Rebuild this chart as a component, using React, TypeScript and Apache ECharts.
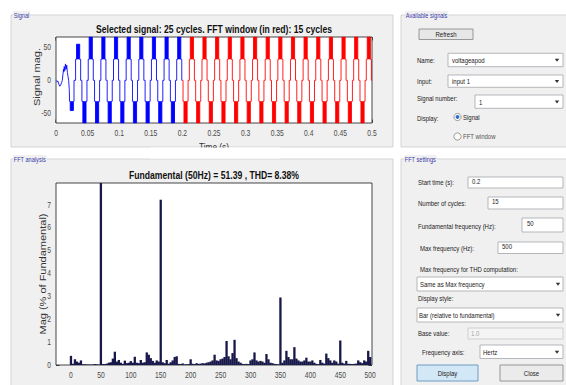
import React, { useEffect, useRef } from 'react';
import * as echarts from 'echarts';

// The screenshot is squeezed horizontally; the chart is drawn wider and scaled.
const S = 0.75;
const FONT = '"Liberation Sans", Arial, Helvetica, sans-serif';

// ---------------- Signal plot ----------------
const timeTicks = [0, 0.05, 0.1, 0.15, 0.2, 0.25, 0.3, 0.35, 0.4, 0.45, 0.5];
const signalTicks = [-50, 0, 50];
const signalMin = -65;
const signalMax = 66;
const fftWindowStart = 0.2;

// start-up transient (time s, value)
const transientSignal: [number, number][] = [
  [0, 0], [0.0015, -2], [0.003, -1], [0.0045, -6], [0.006, -9], [0.0075, -7], [0.009, -3], [0.01, 0],
  [0.011, 9], [0.012, 17], [0.0125, 13], [0.013, 21], [0.014, 15], [0.015, 25], [0.016, 17], [0.017, 23],
  [0.018, 12], [0.019, 6], [0.02, 0], [0.021, -14], [0.0215, -32], [0.0225, -32], [0.0225, -46],
  [0.0275, -46], [0.0275, -32], [0.0285, -32], [0.0285, 0], [0.031, 0], [0.031, 32], [0.0325, 32],
  [0.0325, 55], [0.0375, 55], [0.0375, 32], [0.039, 32], [0.039, 0],
];
// dense switching blocks of the transient: [t0, t1, low, high]
const transientBlocks: [number, number, number, number][] = [
  [0.0225, 0.0275, -46, -32],
  [0.0325, 0.0375, 32, 55],
];
// one steady-state cycle of the staircase (offset in s, value)
const cycleShape: [number, number][] = [
  [0, 0], [0.001, 0], [0.001, -32], [0.0025, -32], [0.0025, -65], [0.0075, -65], [0.0075, -32],
  [0.009, -32], [0.009, 0], [0.011, 0], [0.011, 32], [0.0125, 32], [0.0125, 66], [0.0175, 66],
  [0.0175, 32], [0.019, 32], [0.019, 0],
];
const cycleBlocks: [number, number, number, number][] = [
  [0.0025, 0.0075, -65, -32],
  [0.0125, 0.0175, 32, 66],
];
const cycleStarts = [
  0.04, 0.06, 0.08, 0.1, 0.12, 0.14, 0.16, 0.18, 0.2, 0.22, 0.24, 0.26, 0.28, 0.3, 0.32, 0.34,
  0.36, 0.38, 0.4, 0.42, 0.44, 0.46, 0.48,
];
const signalEnd: [number, number] = [0.5, 0];

// ---------------- FFT plot ----------------
const fftBinHz = 50 / 15;
const fftMag = [
  0.40, 0.05, 0.25, 0.15, 0.10, 0.20, 0.03, 0.03, 0.02, 0.02,
  0.02, 0.02, 0.04, 0.03, 0.02, 100, 0.04, 0.04, 0.06, 0.10,
  0.12, 0.28, 0.58, 0.15, 0.22, 0.10, 0.05, 0.19, 0.08, 0.10,
  0.17, 0.10, 0.36, 0.10, 0.08, 0.22, 0.10, 0.12, 0.55, 0.45,
  0.30, 0.18, 0.10, 0.20, 0.15, 7.22, 0.12, 0.08, 0.22, 0.06,
  0.12, 0.20, 0.35, 0.38, 0.05, 0.04, 0.07, 0.03, 0.03, 0.04,
  0.25, 0.05, 0.04, 0.08, 0.05, 0.06, 0.08, 0.07, 0.10, 0.12,
  0.15, 0.20, 0.45, 0.20, 0.18, 0.25, 0.28, 0.35, 1.05, 0.38,
  0.25, 0.52, 1.10, 0.30, 0.15, 0.10, 0.05, 0.04, 0.05, 0.04,
  0.20, 0.25, 0.55, 0.20, 0.15, 0.18, 0.15, 0.10, 0.48, 0.25,
  0.10, 0.08, 0.05, 0.04, 0.03, 2.95, 0.10, 0.20, 0.62, 0.35,
  0.25, 0.25, 0.78, 0.28, 0.20, 0.15, 0.15, 0.20, 0.32, 0.15,
  0.15, 0.20, 0.10, 0.05, 0.04, 0.22, 0.10, 0.06, 0.50, 0.30,
  0.20, 0.10, 0.20, 0.15, 0.06, 1.07, 0.10, 0.06, 0.18, 0.05,
  0.05, 0.04, 0.05, 0.06, 0.20, 0.12, 0.08, 0.20, 0.15, 0.62,
  0.35,
];
const freqTicks = [0, 50, 100, 150, 200, 250, 300, 350, 400, 450, 500];
const magTicks = [0, 1, 2, 3, 4, 5, 6, 7];
const freqMin = -25;
const freqMax = 503;
const magMax = 7.95;

// ---------------- build series data ----------------
const allPts: [number, number][] = [...transientSignal];
cycleStarts.forEach((c) => cycleShape.forEach(([dt, v]) => allPts.push([+(c + dt).toFixed(5), v])));
allPts.push(signalEnd);
const bluePts = allPts.filter((p) => p[0] <= fftWindowStart);
const redPts = allPts.filter((p) => p[0] >= fftWindowStart);

const allBlocks: [number, number, number, number][] = [...transientBlocks];
cycleStarts.forEach((c) =>
  cycleBlocks.forEach((b) => allBlocks.push([+(c + b[0]).toFixed(5), +(c + b[1]).toFixed(5), b[2], b[3]]))
);
const blueBlocks = allBlocks.filter((b) => b[1] <= fftWindowStart);
const redBlocks = allBlocks.filter((b) => b[0] >= fftWindowStart);

const fftData = fftMag.map((m, i) => [+(i * fftBinHz).toFixed(3), m]);

const px = (x: number) => x / S;

function buildGraphics() {
  const g: any[] = [];
  const rect = (x: number, y: number, w: number, h: number, fill: string, stroke?: string, z = 1) =>
    g.push({
      type: 'rect', z, silent: true,
      shape: { x: px(x), y, width: w / S, height: h },
      style: { fill, stroke: stroke || 'none', lineWidth: stroke ? 1 : 0 },
    });
  const text = (x: number, y: number, t: string, o: any = {}) =>
    g.push({
      type: 'text', z: o.z ?? 3, silent: true, x: px(x), y, rotation: o.rotation ?? 0,
      style: {
        text: t, fontSize: o.size ?? 8, fontFamily: FONT, fontWeight: o.weight ?? 'normal',
        fill: o.color ?? '#222', align: o.align ?? 'left', verticalAlign: o.valign ?? 'middle',
        backgroundColor: o.bg, padding: o.pad,
      },
    });
  const arrow = (x: number, y: number) =>
    g.push({
      type: 'polygon', z: 3, silent: true,
      shape: { points: [[px(x - 2.2), y - 1.3], [px(x + 2.2), y - 1.3], [px(x), y + 1.8]] },
      style: { fill: '#333' },
    });
  const radio = (x: number, y: number, on: boolean) => {
    g.push({ type: 'ellipse', z: 3, silent: true, shape: { cx: px(x), cy: y, rx: 3.6 / S, ry: 3.6 },
      style: { fill: '#fbfbfb', stroke: '#8e8f8f', lineWidth: 1 } });
    if (on) g.push({ type: 'ellipse', z: 4, silent: true, shape: { cx: px(x), cy: y, rx: 1.9 / S, ry: 1.9 },
      style: { fill: '#2a6fc9' } });
  };
  const PANEL = '#f0f0f0';
  const BORDER = '#cfcfcf';
  const TITLE = '#3a3aa8';
  // panels (below the plot grids)
  rect(11, 15, 382, 132, PANEL, BORDER, -5);
  rect(11, 159, 382, 240, PANEL, BORDER, -5);
  rect(401, 15, 180, 132, PANEL, BORDER, -5);
  rect(401, 159, 180, 240, PANEL, BORDER, -5);
  text(13, 15, 'Signal', { size: 7.5, color: TITLE, bg: PANEL, pad: [0, 1] });
  text(13, 159, 'FFT analysis', { size: 7.5, color: TITLE, bg: PANEL, pad: [0, 1] });
  text(405, 15, 'Available signals', { size: 7.5, color: TITLE, bg: PANEL, pad: [0, 1] });
  text(404, 159, 'FFT settings', { size: 7.5, color: TITLE, bg: PANEL, pad: [0, 1] });

  // plot titles & axis names
  text(214, 29, 'Selected signal: 25 cycles. FFT window (in red): 15 cycles', { size: 11.5, weight: 'bold', color: '#111', align: 'center' });
  text(214, 175, 'Fundamental (50Hz) = 51.39 , THD= 8.38%', { size: 11.5, weight: 'bold', color: '#111', align: 'center' });
  text(37, 77, 'Signal mag.', { size: 11, rotation: Math.PI / 2, align: 'center', color: '#333' });
  text(43, 274, 'Mag (% of Fundamental)', { size: 11, rotation: Math.PI / 2, align: 'center', color: '#333' });
  text(214, 141.5, 'Time (s)', { size: 11, valign: 'top', align: 'center', color: '#333', z: 2 });
  rect(150, 147.6, 130, 11, '#ffffff', undefined, 5);

  // Available signals
  rect(419, 29, 54, 10.5, '#e7e7e7', '#8c8c8c', 2);
  text(446, 34.3, 'Refresh', { align: 'center' });
  text(417, 60, 'Name:');
  rect(448, 53.3, 115, 13.4, '#ffffff', '#abadb3', 2);
  text(452, 60, 'voltageapod');
  arrow(557, 60);
  text(417, 81, 'Input:');
  rect(448, 75, 115, 12.3, '#ffffff', '#abadb3', 2);
  text(452, 81.3, 'input 1');
  arrow(557, 81.3);
  text(417, 98.3, 'Signal number:');
  rect(475, 95, 88, 13.3, '#ffffff', '#abadb3', 2);
  text(479, 102.5, '1');
  arrow(557, 101.7);
  text(417, 118, 'Display:');
  radio(457.5, 117, true);
  text(463, 117, 'Signal');
  radio(457.5, 136.5, false);
  text(463, 136.5, 'FFT window', { color: '#555' });

  // FFT settings
  text(418, 182, 'Start time (s):');
  rect(468, 177, 95, 11, '#ffffff', '#abadb3', 2);
  text(472, 181.5, '0.2');
  text(418, 203, 'Number of cycles:');
  rect(488, 197, 75, 12, '#ffffff', '#abadb3', 2);
  text(492, 201.5, '15');
  text(418, 226, 'Fundamental frequency (Hz):');
  rect(522, 218, 41, 14, '#ffffff', '#abadb3', 2);
  text(527, 223.5, '50');
  text(420, 248, 'Max frequency (Hz):');
  rect(498, 242, 65, 11.5, '#ffffff', '#abadb3', 2);
  text(502, 246.5, '500');
  text(420, 269, 'Max frequency for THD computation:');
  rect(417, 277, 146, 14, '#ffffff', '#abadb3', 2);
  text(420, 284, 'Same as Max frequency');
  arrow(558, 284);
  text(418, 298.5, 'Display style:');
  rect(417, 308, 146, 14, '#ffffff', '#abadb3', 2);
  text(419, 315, 'Bar (relative to fundamental)');
  arrow(558, 315);
  text(418, 333.5, 'Base value:');
  rect(468, 328, 95, 11, '#f4f4f4', '#c9c9c9', 2);
  text(471, 333.5, '1.0', { color: '#a5a5a5' });
  text(422, 352, 'Frequency axis:');
  rect(480, 345, 83, 13.5, '#ffffff', '#abadb3', 2);
  text(483, 352, 'Hertz');
  arrow(557, 352);
  rect(417, 365, 61, 16, '#d3e8f7', '#5e90bd', 2);
  text(447.5, 373.5, 'Display', { align: 'center' });
  rect(500, 365, 63, 16, '#ebebeb', '#8a8a8a', 2);
  text(531.5, 373.5, 'Close', { align: 'center' });
  return g;
}

const tickStyle = { color: '#262626', width: 1 };
function bottomAxis(gridIndex: number, min: number, max: number, ticks: number[]) {
  return {
    type: 'value', gridIndex, min, max, position: 'bottom',
    axisLine: { show: false, onZero: false },
    axisTick: { show: true, inside: true, length: 3.5, customValues: ticks, lineStyle: tickStyle },
    axisLabel: { show: true, customValues: ticks, fontSize: 9, color: '#4a4a4a', fontFamily: FONT, margin: 6 },
    splitLine: { show: false },
  };
}
function topAxis(gridIndex: number, min: number, max: number, ticks: number[]) {
  return {
    type: 'value', gridIndex, min, max, position: 'top',
    axisLine: { show: false, onZero: false },
    axisTick: { show: true, inside: true, length: 3.5, customValues: ticks, lineStyle: tickStyle },
    axisLabel: { show: false },
    splitLine: { show: false },
  };
}
function leftAxis(gridIndex: number, min: number, max: number, ticks: number[]) {
  return {
    type: 'value', gridIndex, min, max, position: 'left',
    axisLine: { show: false, onZero: false },
    axisTick: { show: true, inside: true, length: 3.5 / S, customValues: ticks, lineStyle: tickStyle },
    axisLabel: { show: true, customValues: ticks, fontSize: 9, color: '#4a4a4a', fontFamily: FONT, margin: 5 / S },
    splitLine: { show: false },
  };
}
function rightAxis(gridIndex: number, min: number, max: number, ticks: number[]) {
  return {
    type: 'value', gridIndex, min, max, position: 'right',
    axisLine: { show: false, onZero: false },
    axisTick: { show: true, inside: true, length: 3.5 / S, customValues: ticks, lineStyle: tickStyle },
    axisLabel: { show: false },
    splitLine: { show: false },
  };
}

const renderBlock = (params: any, api: any) => {
  const a = api.coord([api.value(0), api.value(3)]);
  const b = api.coord([api.value(1), api.value(2)]);
  return {
    type: 'rect',
    shape: { x: a[0], y: a[1], width: b[0] - a[0], height: b[1] - a[1] },
    style: { fill: api.visual('color') },
  };
};

export default function App() {
  const ref = useRef<HTMLDivElement>(null);
  useEffect(() => {
    if (!ref.current) return;
    const chart = echarts.init(ref.current, null, { renderer: 'svg' });
    const gridStyle = { show: true, z: 1, backgroundColor: '#ffffff', borderColor: '#2b2b2b', borderWidth: 1 };
    chart.setOption({
      animation: false,
      backgroundColor: '#ffffff',
      grid: [
        { left: px(56), top: 37, width: 316 / S, height: 86, ...gridStyle },
        { left: px(56), top: 183, width: 316 / S, height: 182, ...gridStyle },
      ],
      xAxis: [
        bottomAxis(0, 0, 0.5, timeTicks),
        topAxis(0, 0, 0.5, timeTicks),
        bottomAxis(1, freqMin, freqMax, freqTicks),
        topAxis(1, freqMin, freqMax, freqTicks),
      ],
      yAxis: [
        leftAxis(0, signalMin, signalMax, signalTicks),
        rightAxis(0, signalMin, signalMax, signalTicks),
        leftAxis(1, 0, magMax, magTicks),
        rightAxis(1, 0, magMax, magTicks),
      ],
      graphic: { elements: buildGraphics() },
      series: [
        {
          name: 'signal', type: 'line', xAxisIndex: 0, yAxisIndex: 0, data: bluePts,
          showSymbol: false, symbol: 'none', lineStyle: { color: '#0000ff', width: 1 }, clip: true, silent: true,
        },
        {
          name: 'fft window', type: 'line', xAxisIndex: 0, yAxisIndex: 0, data: redPts,
          showSymbol: false, symbol: 'none', lineStyle: { color: '#ff0000', width: 1 }, clip: true, silent: true,
        },
        {
          name: 'signal blocks', type: 'custom', xAxisIndex: 0, yAxisIndex: 0, data: blueBlocks,
          renderItem: renderBlock, encode: { x: [0, 1], y: [2, 3] }, itemStyle: { color: '#0000ff' }, clip: true, silent: true,
        },
        {
          name: 'fft window blocks', type: 'custom', xAxisIndex: 0, yAxisIndex: 0, data: redBlocks,
          renderItem: renderBlock, encode: { x: [0, 1], y: [2, 3] }, itemStyle: { color: '#ff0000' }, clip: true, silent: true,
        },
        {
          name: 'FFT', type: 'bar', xAxisIndex: 2, yAxisIndex: 2, data: fftData, barWidth: 2.3 / S,
          itemStyle: { color: '#17174a' }, clip: true, silent: true,
        },
      ],
    });
    return () => chart.dispose();
  }, []);
  return (
    <div style={{ position: 'fixed', left: 0, top: 0, width: 566, height: 385, overflow: 'hidden', background: '#fff' }}>
      <div
        ref={ref}
        style={{ position: 'absolute', left: 0, top: 0, width: 566 / S, height: 385, transform: `scaleX(${S})`, transformOrigin: '0 0' }}
      />
    </div>
  );
}
